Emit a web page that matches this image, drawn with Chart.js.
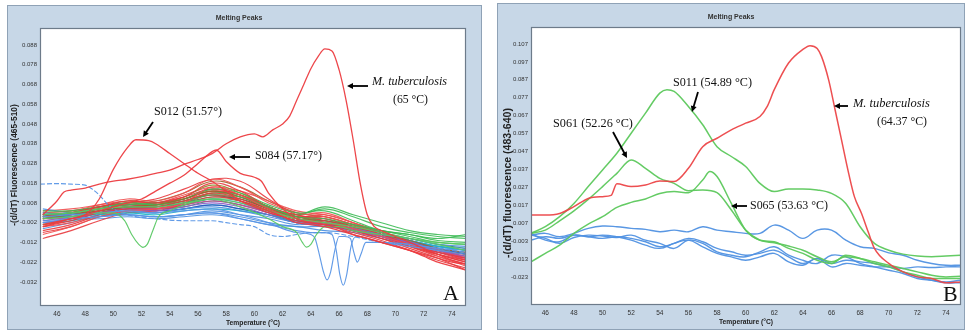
<!DOCTYPE html>
<html><head><meta charset="utf-8">
<script src="https://cdn.jsdelivr.net/npm/chart.js@4.4.1/dist/chart.umd.min.js"></script>
<style>
html,body{margin:0;padding:0;background:#fff;width:965px;height:331px;overflow:hidden;}
#wa{position:absolute;left:7px;top:5px;width:475px;height:325px;}
#wb{position:absolute;left:497px;top:3px;width:468px;height:327px;}
canvas{display:block;}
</style></head><body>
<div id="wa"><canvas id="ca" width="475" height="325"></canvas></div>
<div id="wb"><canvas id="cb" width="468" height="327"></canvas></div>
<script>
// ---------- tick labels ----------
const xTickValues = [46,48,50,52,54,56,58,60,62,64,66,68,70,72,74];
const yTicksA = [0.088,0.078,0.068,0.058,0.048,0.038,0.028,0.018,0.008,-0.002,-0.012,-0.022,-0.032];
const yTickLabelsA = ['0.088','0.078','0.068','0.058','0.048','0.038','0.028','0.018','0.008','-0.002','-0.012','-0.022','-0.032'];
const yTicksB = [0.107,0.097,0.087,0.077,0.067,0.057,0.047,0.037,0.027,0.017,0.007,-0.003,-0.013,-0.023];
const yTickLabelsB = ['0.107','0.097','0.087','0.077','0.067','0.057','0.047','0.037','0.027','0.017','0.007','-0.003','-0.013','-0.023'];

// ---------- panel A : common temperature grid for the bundle ----------
const tempCoarseA = [45,47,49,51,53,55,57,59,61,63,65,67,69,71,73,75];
const bA01 = [-0.004,-0.001,0.003,0.005,0.006,0.009,0.013,0.010,0.004,-0.001,-0.003,-0.006,-0.010,-0.014,-0.018,-0.021];
const bA02 = [-0.008,-0.004,0.001,0.004,0.005,0.008,0.016,0.012,0.005,0.000,-0.002,-0.005,-0.009,-0.013,-0.019,-0.024];
const bA03 = [0.002,0.003,0.005,0.008,0.007,0.009,0.012,0.011,0.006,0.001,0.000,-0.003,-0.006,-0.008,-0.010,-0.008];
const bA04 = [0.003,0.002,0.003,0.004,0.003,0.005,0.006,0.004,0.001,-0.002,-0.004,-0.005,-0.008,-0.010,-0.013,-0.014];
const bA05 = [0.001,0.003,0.006,0.009,0.008,0.011,0.018,0.014,0.006,0.002,-0.001,-0.004,-0.008,-0.013,-0.017,-0.020];
const bA06 = [0.000,0.002,0.004,0.006,0.007,0.010,0.014,0.011,0.005,0.001,-0.002,-0.005,-0.008,-0.011,-0.015,-0.017];
const bA07 = [-0.002,0.000,0.003,0.005,0.004,0.006,0.008,0.006,0.002,-0.002,-0.003,-0.006,-0.009,-0.012,-0.016,-0.019];
const bA08 = [0.001,0.001,0.002,0.003,0.002,0.004,0.005,0.004,0.002,-0.001,-0.003,-0.006,-0.008,-0.011,-0.014,-0.016];
const bA09 = [-0.010,-0.006,-0.001,0.003,0.004,0.007,0.011,0.009,0.004,0.000,-0.002,-0.006,-0.010,-0.015,-0.020,-0.026];
const bA10 = [0.004,0.004,0.006,0.007,0.008,0.010,0.015,0.013,0.007,0.003,0.004,-0.001,-0.006,-0.008,-0.011,-0.012];
const bA11 = [-0.001,0.000,0.001,0.002,0.001,0.002,0.003,0.001,-0.002,-0.004,-0.004,-0.006,-0.009,-0.012,-0.014,-0.015];
const bA12 = [0.003,0.004,0.007,0.010,0.009,0.013,0.020,0.016,0.008,0.003,0.001,-0.003,-0.008,-0.012,-0.016,-0.019];
const bA13 = [0.001,0.002,0.004,0.006,0.006,0.008,0.011,0.010,0.005,0.000,-0.001,-0.004,-0.007,-0.010,-0.013,-0.015];
const bA14 = [-0.006,-0.003,0.002,0.006,0.007,0.009,0.012,0.009,0.003,-0.001,-0.003,-0.007,-0.011,-0.016,-0.021,-0.025];
const bA15 = [-0.001,0.001,0.004,0.006,0.005,0.007,0.009,0.007,0.003,-0.001,-0.002,-0.005,-0.009,-0.013,-0.017,-0.020];
const bA16 = [0.005,0.003,0.002,0.002,0.001,0.002,0.004,0.002,0.000,-0.003,-0.002,-0.005,-0.008,-0.011,-0.015,-0.017];
const bA17 = [0.000,0.002,0.005,0.007,0.008,0.011,0.015,0.012,0.006,0.001,0.000,-0.004,-0.009,-0.013,-0.018,-0.022];
const bA18 = [-0.003,0.000,0.003,0.005,0.006,0.009,0.013,0.012,0.006,0.002,0.005,0.001,-0.004,-0.007,-0.009,-0.010];
const bA19 = [0.002,0.002,0.003,0.005,0.004,0.005,0.007,0.005,0.002,-0.001,-0.003,-0.005,-0.008,-0.012,-0.015,-0.018];
const bA20 = [-0.004,-0.002,0.002,0.004,0.005,0.008,0.013,0.011,0.006,0.002,0.003,-0.002,-0.007,-0.012,-0.016,-0.020];
const bA21 = [0.001,0.003,0.005,0.007,0.007,0.011,0.017,0.013,0.006,0.001,-0.001,-0.004,-0.008,-0.012,-0.016,-0.018];
const bA22 = [-0.002,-0.001,0.001,0.003,0.003,0.005,0.007,0.005,0.002,-0.002,-0.003,-0.006,-0.009,-0.011,-0.014,-0.016];
const bA23 = [0.002,0.003,0.006,0.008,0.007,0.010,0.014,0.012,0.005,0.000,-0.002,-0.005,-0.009,-0.014,-0.019,-0.023];
const bA24 = [0.000,0.001,0.003,0.006,0.005,0.007,0.010,0.009,0.004,0.000,-0.001,-0.003,-0.006,-0.009,-0.012,-0.013];
const bA25 = [0.001,0.000,0.000,0.001,0.000,0.001,0.002,0.000,-0.003,-0.004,-0.006,-0.007,-0.010,-0.013,-0.016,-0.017];
const bA26 = [-0.007,-0.004,0.001,0.004,0.005,0.008,0.012,0.010,0.005,0.001,0.001,-0.003,-0.008,-0.013,-0.018,-0.022];
const bA27 = [0.002,0.003,0.005,0.007,0.006,0.009,0.012,0.009,0.004,0.000,-0.002,-0.005,-0.008,-0.012,-0.016,-0.018];
const bA28 = [0.004,0.005,0.007,0.009,0.008,0.012,0.016,0.014,0.009,0.004,0.002,-0.002,-0.007,-0.011,-0.016,-0.021];
const bA29 = [0.000,0.002,0.005,0.008,0.010,0.015,0.020,0.019,0.010,0.002,0.000,-0.004,-0.008,-0.012,-0.016,-0.020];
const bA30 = [0.001,0.003,0.006,0.008,0.009,0.013,0.019,0.016,0.009,0.003,0.001,-0.003,-0.007,-0.011,-0.015,-0.018];
const bA31 = [0.003,0.004,0.006,0.009,0.008,0.010,0.014,0.011,0.006,0.002,0.006,0.002,-0.002,-0.006,-0.008,-0.009];
const bA32 = [-0.005,-0.002,0.002,0.005,0.005,0.007,0.010,0.008,0.003,-0.001,-0.002,-0.004,-0.008,-0.011,-0.014,-0.016];
const bA33 = [0.002,0.001,0.004,0.006,0.005,0.006,0.009,0.007,0.003,-0.002,-0.003,-0.005,-0.009,-0.013,-0.017,-0.019];
const bA34 = [-0.003,-0.001,0.003,0.006,0.007,0.010,0.015,0.012,0.006,0.001,0.002,-0.002,-0.007,-0.012,-0.017,-0.021];

// ---------- panel A : highlighted curves ----------
const mtbA_T = [45,46,46.5,47,48,49,50,51,52,53,54,55,56,57,58,59,60,60.6,61.3,62,62.5,63,63.5,64,64.5,65,65.5,66,66.5,67,67.5,68,68.5,69,70,71,72,73,74,75];
const mtbA_V = [0.002,0.009,0.0135,0.0145,0.0155,0.0175,0.019,0.020,0.0213,0.023,0.0246,0.0275,0.030,0.033,0.038,0.0415,0.043,0.0415,0.045,0.048,0.052,0.060,0.068,0.076,0.082,0.086,0.085,0.0755,0.060,0.040,0.018,0.002,-0.004,-0.006,-0.009,-0.012,-0.015,-0.018,-0.021,-0.023];
const s012_T = [45,46,47,48,49,50,51,51.6,52.5,53,54,55,56,57,58,59,60,61,62,63,64,65,66,67,68,69,70,71,72,73,74,75];
const s012_V = [-0.004,-0.002,0.000,0.002,0.010,0.025,0.036,0.040,0.0395,0.038,0.033,0.028,0.023,0.019,0.014,0.009,0.006,0.004,0.001,-0.002,-0.003,-0.004,-0.006,-0.008,-0.010,-0.012,-0.014,-0.016,-0.019,-0.022,-0.024,-0.026];
const s084_T = [45,47,49,50,51,52,53,54,55,56,57,57.3,58,59,60,60.5,61,62,63,64,65,66,67,68,69,70,71,72,73,74,75];
const s084_V = [-0.003,0.000,0.004,0.006,0.008,0.010,0.014,0.018,0.022,0.028,0.034,0.0348,0.029,0.023,0.021,0.019,0.013,0.005,0.000,-0.002,-0.003,-0.005,-0.008,-0.010,-0.012,-0.014,-0.016,-0.018,-0.020,-0.022,-0.023];
const greenDip52_T = [45,47,49,50,50.8,51.3,51.8,52.1,52.4,52.8,53.2,54,55,57,59,61,63,65,67,69,71,73,75];
const greenDip52_V = [0.000,0.001,0.003,0.003,-0.001,-0.008,-0.013,-0.0145,-0.013,-0.006,0.001,0.004,0.007,0.010,0.008,0.004,0.000,-0.002,-0.004,-0.007,-0.010,-0.013,-0.016];
const greenDip64_T = [45,47,49,51,53,55,57,59,61,62,63,63.4,63.7,64.0,64.4,65,66,67,69,71,73,75];
const greenDip64_V = [0.002,0.003,0.005,0.006,0.006,0.008,0.010,0.006,0.000,-0.004,-0.007,-0.012,-0.0144,-0.013,-0.008,-0.004,-0.004,-0.006,-0.008,-0.010,-0.012,-0.013];
const blueDash_T = [44.8,46,47,48,48.5,49,49.5,50,51,53,55,57,58,59,60,60.5,61,62,63,64,65,67,69,71,73,75];
const blueDash_V = [0.0175,0.0178,0.0175,0.017,0.015,0.012,0.008,0.005,0.002,0.000,-0.001,-0.001,-0.002,-0.003,-0.004,-0.006,-0.008,-0.009,-0.008,-0.007,-0.007,-0.009,-0.012,-0.013,-0.015,-0.017];
const blueDip1_T = [45,47,49,51,53,55,57,59,61,62,63,64,64.3,64.6,64.9,65.15,65.4,65.7,66.0,66.4,66.8,67.05,67.3,67.55,67.9,69,71,73,75];
const blueDip1_V = [0.001,0.002,0.003,0.004,0.003,0.004,0.005,0.002,-0.002,-0.005,-0.007,-0.008,-0.010,-0.018,-0.027,-0.031,-0.027,-0.016,-0.009,-0.009,-0.010,-0.017,-0.022,-0.018,-0.012,-0.012,-0.013,-0.015,-0.016];
const blueDip2_T = [45,47,49,51,53,55,57,59,61,63,64,65,65.5,65.8,66.05,66.3,66.55,66.85,67.2,68,69,71,73,75];
const blueDip2_V = [-0.002,0.000,0.001,0.002,0.001,0.002,0.003,0.000,-0.003,-0.006,-0.007,-0.007,-0.008,-0.016,-0.028,-0.0337,-0.028,-0.014,-0.009,-0.010,-0.012,-0.014,-0.016,-0.018];

// ---------- panel B ----------
const tempB = [45,46,47,48,49,50,51,52,53,54,55,56,57,58,59,60,61,62,63,64,65,66,67,68,69,70,71,72,73,74,75];
const mtbB_T = [45,46,47,48,49,50,50.6,51,52,53,54,55,56,57,58,59,60,61,61.5,62,63,64,64.5,65,65.3,65.8,66.25,66.7,67.2,67.6,68.1,68.6,69,70,71,72,73,74,75];
const mtbB_V = [0.0115,0.0115,0.0124,0.0162,0.0208,0.0218,0.0225,0.0290,0.0274,0.0283,0.0305,0.0302,0.0376,0.0497,0.0544,0.0591,0.0628,0.0665,0.0720,0.0815,0.0964,0.1040,0.1061,0.1045,0.1001,0.0870,0.0703,0.0535,0.0348,0.0218,0.0124,0.0013,-0.0071,-0.0155,-0.0202,-0.0230,-0.0239,-0.0263,-0.0258];
const s011_T = [45,46,47,48,49,50,51,52,53,54,54.5,55,56,57,58,59,60,61,62,63,64,65,66,67,68,69,70,71,72,73,74,75];
const s011_V = [0.0013,0.0050,0.0106,0.0180,0.0274,0.0367,0.0460,0.0572,0.0684,0.0796,0.0815,0.0805,0.0721,0.0619,0.0497,0.0442,0.0386,0.0292,0.0246,0.0261,0.0261,0.0255,0.0236,0.0180,0.0050,-0.0043,-0.0081,-0.0103,-0.0114,-0.0118,-0.0114,-0.0109];
const s061_V = [0.0013,0.0031,0.0083,0.0139,0.0203,0.0274,0.0348,0.0423,0.0376,0.0320,0.0292,0.0251,0.0255,0.0240,0.0143,0.0031,-0.0025,-0.0040,-0.0058,-0.0081,-0.0118,-0.0146,-0.0118,-0.0127,-0.0146,-0.0165,-0.0183,-0.0202,-0.0221,-0.0230,-0.0226];
const s065_T = [45,46,47,48,49,50,51,52,53,54,55,56,57,57.5,58,59,60,61,62,63,64,65,66,67,68,69,70,71,72,73,74,75];
const s065_V = [-0.0146,-0.0099,-0.0053,0.0013,0.0065,0.0106,0.0158,0.0186,0.0205,0.0236,0.0246,0.0240,0.0311,0.0358,0.0330,0.0180,0.0031,-0.0025,-0.0034,-0.0071,-0.0099,-0.0137,-0.0155,-0.0109,-0.0127,-0.0155,-0.0174,-0.0202,-0.0221,-0.0239,-0.0239,-0.0239];
const blueB1 = [0.0003,0.0013,-0.0006,0.0013,0.0041,0.0054,0.0050,0.0041,0.0035,0.0022,0.0031,0.0022,0.0050,0.0031,0.0022,0.0013,0.0013,0.0059,0.0031,-0.0015,0.0031,0.0031,-0.0025,-0.0062,-0.0071,-0.0096,-0.0109,-0.0137,-0.0155,-0.0165,-0.0165];
const blueB2 = [-0.0025,-0.0006,-0.0015,0.0003,-0.0006,-0.0015,-0.0006,-0.0015,-0.0034,-0.0062,-0.0043,-0.0015,-0.0034,-0.0071,-0.0090,-0.0109,-0.0099,-0.0081,-0.0118,-0.0155,-0.0127,-0.0155,-0.0137,-0.0146,-0.0155,-0.0174,-0.0202,-0.0230,-0.0249,-0.0263,-0.0263];
const blueB3 = [0.0003,-0.0015,-0.0043,-0.0010,0.0003,-0.0002,-0.0010,0.0003,-0.0025,-0.0043,-0.0071,-0.0025,-0.0043,-0.0090,-0.0109,-0.0118,-0.0090,-0.0062,-0.0109,-0.0137,-0.0155,-0.0109,-0.0118,-0.0155,-0.0174,-0.0193,-0.0211,-0.0239,-0.0249,-0.0258,-0.0249];
const blueB4 = [0.0013,-0.0025,-0.0034,0.0003,-0.0006,0.0003,-0.0006,-0.0025,-0.0053,-0.0071,-0.0043,-0.0025,-0.0062,-0.0099,-0.0118,-0.0137,-0.0118,-0.0099,-0.0146,-0.0165,-0.0127,-0.0174,-0.0155,-0.0165,-0.0174,-0.0174,-0.0183,-0.0174,-0.0178,-0.0174,-0.0174];

// ---------- colours ----------
const C = {red:'rgba(232,56,61,0.9)', red2:'rgba(240,80,80,0.9)', green:'rgba(60,186,84,0.9)', dgreen:'rgba(46,139,87,0.9)',
  blue:'rgba(74,143,224,0.9)', navy:'rgba(48,80,192,0.9)', cyan:'rgba(31,181,200,0.9)', purple:'rgba(138,92,200,0.9)',
  magenta:'rgba(208,64,154,0.9)', brown:'rgba(160,100,44,0.9)', olive:'rgba(140,140,48,0.9)'};

function series(xs, ys, color, extra){
  return Object.assign({data: xs.map((x,i)=>({x:x, y:ys[i]})), borderColor: color, borderWidth: 1.15,
    pointRadius: 0, fill: false, tension: 0.4}, extra || {});
}
const mono = {cubicInterpolationMode:'monotone'};

const bundle = [[bA01,C.red],[bA02,C.red2],[bA03,C.green],[bA04,C.blue],[bA05,C.red],[bA06,C.brown],[bA07,C.purple],
 [bA08,C.cyan],[bA09,C.red],[bA10,C.green],[bA11,C.blue],[bA12,C.red2],[bA13,C.dgreen],[bA14,C.red],[bA15,C.magenta],
 [bA16,C.blue],[bA17,C.red],[bA18,C.green],[bA19,C.navy],[bA20,C.red2],[bA21,C.olive],[bA22,C.cyan],[bA23,C.red],
 [bA24,C.green],[bA25,C.blue],[bA26,C.red],[bA27,C.purple],[bA28,C.red2],[bA29,C.red],[bA30,C.brown],
 [bA31,C.green],[bA32,C.blue],[bA33,C.dgreen],[bA34,C.red]];

const datasetsA = [
  series(mtbA_T, mtbA_V, 'rgba(236,60,64,0.95)', Object.assign({borderWidth:1.3}, mono)),
  series(s012_T, s012_V, 'rgba(236,60,64,0.95)', Object.assign({borderWidth:1.3}, mono)),
  series(s084_T, s084_V, 'rgba(236,60,64,0.95)', Object.assign({borderWidth:1.3}, mono)),
  series(greenDip52_T, greenDip52_V, 'rgba(90,200,100,0.95)', mono),
  series(greenDip64_T, greenDip64_V, 'rgba(90,200,100,0.95)', mono),
  series(blueDip1_T, blueDip1_V, 'rgba(90,150,230,0.95)', mono),
  series(blueDip2_T, blueDip2_V, 'rgba(90,150,230,0.95)', mono),
  series(blueDash_T, blueDash_V, 'rgba(90,150,230,0.95)', Object.assign({borderDash:[5,2]}, mono))
].concat(bundle.map(b => series(tempCoarseA, b[0], b[1])));

const datasetsB = [
  series(mtbB_T, mtbB_V, 'rgba(236,70,72,0.95)', Object.assign({borderWidth:1.5}, mono)),
  series(s011_T, s011_V, 'rgba(92,200,92,0.95)', Object.assign({borderWidth:1.5}, mono)),
  series(tempB, s061_V, 'rgba(92,200,92,0.95)', Object.assign({borderWidth:1.5}, mono)),
  series(s065_T, s065_V, 'rgba(92,200,92,0.95)', Object.assign({borderWidth:1.5}, mono)),
  series(tempB, blueB1, 'rgba(80,145,225,0.95)', {borderWidth:1.4}),
  series(tempB, blueB2, 'rgba(80,145,225,0.95)', {borderWidth:1.4}),
  series(tempB, blueB3, 'rgba(80,145,225,0.95)', {borderWidth:1.4}),
  series(tempB, blueB4, 'rgba(80,145,225,0.95)', {borderWidth:1.4})
];

// ---------- drawing helpers ----------
function drawText(ctx, t){
  const fam = t.sans ? '"Liberation Sans", Arial, sans-serif' : '"Liberation Serif", "Times New Roman", serif';
  ctx.font = (t.style||'') + ' 20px ' + fam;
  const size = t.size || 20 * t.w / ctx.measureText(t.text).width;
  ctx.font = (t.style||'') + ' ' + size.toFixed(2) + 'px ' + fam;
  ctx.fillStyle = t.color || '#111';
  ctx.textAlign = t.align || 'left';
  ctx.textBaseline = 'middle';
  ctx.fillText(t.text, t.x, t.y);
}
function drawArrow(ctx, x1, y1, x2, y2){
  const a = Math.atan2(y2-y1, x2-x1), L = 6, W = 3;
  ctx.strokeStyle = '#000'; ctx.fillStyle = '#000'; ctx.lineWidth = 1.8;
  ctx.beginPath(); ctx.moveTo(x1,y1); ctx.lineTo(x2 - Math.cos(a)*L*0.8, y2 - Math.sin(a)*L*0.8); ctx.stroke();
  ctx.beginPath();
  ctx.moveTo(x2, y2);
  ctx.lineTo(x2 - Math.cos(a)*L + Math.sin(a)*W, y2 - Math.sin(a)*L - Math.cos(a)*W);
  ctx.lineTo(x2 - Math.cos(a)*L - Math.sin(a)*W, y2 - Math.sin(a)*L + Math.cos(a)*W);
  ctx.closePath(); ctx.fill();
}

function framePlugin(cfg){
  return {
    id: 'frame',
    beforeDraw(chart){
      const ctx = chart.ctx, a = chart.chartArea;
      ctx.save();
      ctx.fillStyle = '#c7d7e7';
      ctx.fillRect(0, 0, chart.width, chart.height);
      ctx.strokeStyle = '#8fa2b6'; ctx.lineWidth = 1;
      ctx.strokeRect(0.5, 0.5, chart.width-1, chart.height-1);
      ctx.fillStyle = '#ffffff';
      ctx.fillRect(a.left, a.top, a.right-a.left, a.bottom-a.top);
      ctx.restore();
    },
    afterDraw(chart){
      const ctx = chart.ctx, a = chart.chartArea;
      ctx.save();
      ctx.strokeStyle = '#6d7b8a'; ctx.lineWidth = 1.2;
      ctx.strokeRect(a.left+0.5, a.top+0.5, a.right-a.left-1, a.bottom-a.top-1);
      drawText(ctx, {text:'Melting Peaks', x:cfg.titleX, y:cfg.titleY, size:7, style:'bold', sans:true, align:'center', color:'#333'});
      drawText(ctx, {text:'Temperature (°C)', x:(a.left+a.right)/2, y:cfg.xTitleY, w:cfg.xTitleW, style:'bold', sans:true, align:'center', color:'#222'});
      ctx.save();
      ctx.translate(cfg.yTitleX, cfg.yTitleY);
      ctx.rotate(-Math.PI/2);
      drawText(ctx, {text:cfg.yTitle, x:0, y:0, w:cfg.yTitleW, style:'bold', sans:true, align:'center', color:'#222'});
      ctx.restore();
      cfg.labels.forEach(t => drawText(ctx, t));
      cfg.arrows.forEach(r => drawArrow(ctx, r[0], r[1], r[2], r[3]));
      ctx.restore();
    }
  };
}

function makeChart(id, datasets, o){
  return new Chart(document.getElementById(id), {
    type: 'line',
    data: {datasets: datasets},
    options: {
      responsive: false, animation: false, events: [],
      layout: {padding: {left: 0, top: o.top, right: o.right, bottom: 0}},
      plugins: {legend: {display: false}, tooltip: {enabled: false}, title: {display: false}},
      scales: {
        x: {type: 'linear', min: o.xmin, max: o.xmax, bounds: 'data',
            grid: {display: false, drawTicks: false}, border: {display: false},
            ticks: {font: {size: 6.5, family: '"Liberation Sans", Arial'}, color: '#333', padding: 4,
                    autoSkip: false, maxRotation: 0, callback: v => String(v)},
            afterBuildTicks: s => { s.ticks = xTickValues.map(v => ({value: v})); },
            afterFit: s => { s.height = o.xh; }},
        y: {type: 'linear', min: o.ymin, max: o.ymax, bounds: 'data',
            grid: {display: false, drawTicks: false}, border: {display: false},
            ticks: {font: {size: 6, family: '"Liberation Sans", Arial'}, color: '#333', padding: 3,
                    autoSkip: false, callback: (v, i) => o.yLabels[i]},
            afterBuildTicks: s => { s.ticks = o.yTicks.map(v => ({value: v})); },
            afterFit: s => { s.width = o.yw; }}
      }
    },
    plugins: [framePlugin(o.deco)]
  });
}

makeChart('ca', datasetsA, {
  top: 23, right: 16, xh: 24, yw: 33, xmin: 44.8, xmax: 75.0, ymin: -0.0442, ymax: 0.0966,
  yTicks: yTicksA, yLabels: yTickLabelsA,
  deco: {
    titleX: 232, titleY: 13, xTitleY: 318, xTitleW: 54,
    yTitle: '-(d/dT) Fluorescence (465-510)', yTitleX: 8, yTitleY: 160, yTitleW: 122,
    labels: [
      {text:'S012 (51.57°)', x:147, y:107, w:68},
      {text:'S084 (57.17°)', x:248, y:151, w:67},
      {text:'M. tuberculosis', x:365, y:77, w:75, style:'italic'},
      {text:'(65 °C)', x:386, y:95, w:35},
      {text:'A', x:436, y:289, size:22}
    ],
    arrows: [[146,117,136,132],[243,152,222,152],[361,81,340,81]]
  }
});

makeChart('cb', datasetsB, {
  top: 24, right: 4, xh: 25, yw: 34, xmin: 45.0, xmax: 75.05, ymin: -0.0387, ymax: 0.1165,
  yTicks: yTicksB, yLabels: yTickLabelsB,
  deco: {
    titleX: 234, titleY: 14, xTitleY: 319, xTitleW: 54,
    yTitle: '-(d/dT) fluorescence (483-640)', yTitleX: 11, yTitleY: 180, yTitleW: 150,
    labels: [
      {text:'S011 (54.89 °C)', x:176, y:80, w:79},
      {text:'S061 (52.26 °C)', x:56, y:121, w:80},
      {text:'S065 (53.63 °C)', x:253, y:203, w:78},
      {text:'M. tuberculosis', x:356, y:101, w:77, style:'italic'},
      {text:'(64.37 °C)', x:380, y:119, w:50},
      {text:'B', x:446, y:292, size:22}
    ],
    arrows: [[201,89,195,109],[116,129,130,155],[250,203,234,203],[351,103,337,103]]
  }
});
</script>
</body></html>
